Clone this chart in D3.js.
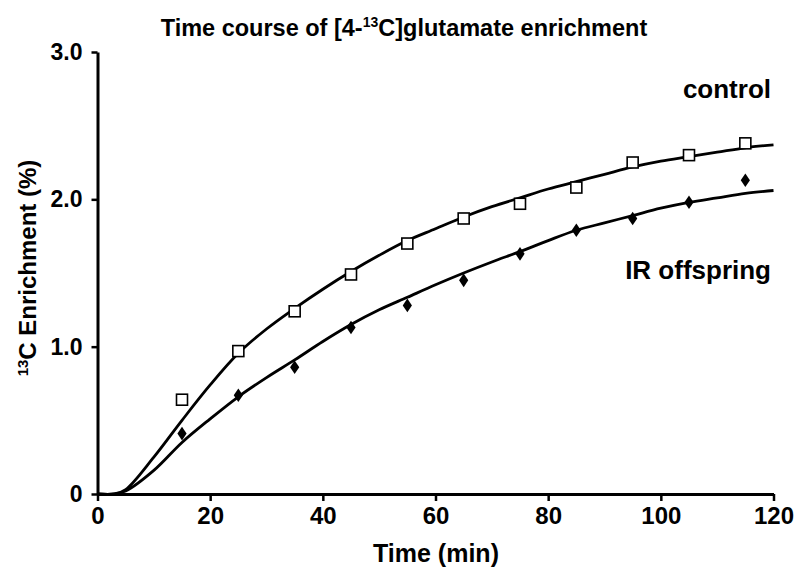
<!DOCTYPE html>
<html>
<head>
<meta charset="utf-8">
<script src="https://cdn.jsdelivr.net/npm/d3@7"></script>
<style>
  body { margin: 0; background: #fff; }
  text { font-family: "Liberation Sans", Arial, sans-serif; font-weight: bold; fill: #000; }
</style>
</head>
<body>
<div id="chart"></div>
<script>
var svgWidth = 800;
var svgHeight = 582;

// measured time points (min)
var times = [15, 25, 35, 45, 55, 65, 75, 85, 95, 105, 115];
var controlValues = [0.64, 0.97, 1.24, 1.49, 1.70, 1.87, 1.97, 2.08, 2.25, 2.30, 2.38];
var irValues = [0.41, 0.67, 0.86, 1.13, 1.28, 1.45, 1.63, 1.79, 1.87, 1.98, 2.13];

// fitted curves
var curveTimes = [0, 3, 5, 10, 15, 20, 25, 30, 35, 40, 45, 50, 55, 60, 65, 70, 75, 80, 85, 90, 95, 100, 105, 110, 115, 120];
var controlCurve = [0, 0, 0.03, 0.25, 0.50, 0.74, 0.955, 1.12, 1.26, 1.39, 1.51, 1.62, 1.72, 1.80, 1.88, 1.95, 2.01, 2.07, 2.12, 2.17, 2.22, 2.26, 2.29, 2.32, 2.35, 2.37];
var irCurve = [0, 0, 0.02, 0.16, 0.35, 0.51, 0.66, 0.79, 0.91, 1.035, 1.15, 1.25, 1.335, 1.42, 1.50, 1.575, 1.645, 1.72, 1.79, 1.84, 1.89, 1.94, 1.98, 2.01, 2.04, 2.06];

var xTicks = [0, 20, 40, 60, 80, 100, 120];
var yTicks = [0, 1, 2, 3];
var yTickLabels = ["0", "1.0", "2.0", "3.0"];

var svg = d3.select("#chart")
  .append("svg")
  .attr("width", svgWidth)
  .attr("height", svgHeight);

var x = d3.scaleLinear().domain([0, 120]).range([97.5, 773.5]);
var y = d3.scaleLinear().domain([0, 3]).range([494, 52]);

// axes
var xAxis = svg.append("g")
  .attr("transform", "translate(0,494)")
  .call(d3.axisBottom(x).tickValues(xTicks).tickSize(7).tickSizeOuter(0).tickPadding(4));
xAxis.select(".domain").attr("stroke-width", 3);
xAxis.selectAll(".tick line").attr("stroke-width", 2.5);
xAxis.selectAll(".tick text").attr("font-size", 24).attr("dy", "0.78em");

var yAxis = svg.append("g")
  .attr("transform", "translate(97.5,0)")
  .call(d3.axisLeft(y).tickValues(yTicks).tickFormat((d, i) => yTickLabels[i]).tickSize(6).tickSizeOuter(0).tickPadding(9));
yAxis.select(".domain").attr("stroke-width", 3);
yAxis.selectAll(".tick line").attr("stroke-width", 2.5);
yAxis.selectAll(".tick text").attr("font-size", 23);

// fitted lines
var line = d3.line()
  .x((d, i) => x(curveTimes[i]))
  .y(d => y(d))
  .curve(d3.curveCatmullRom.alpha(0.5));

svg.append("path")
  .datum(controlCurve)
  .attr("d", line)
  .attr("fill", "none")
  .attr("stroke", "#000")
  .attr("stroke-width", 2.8);

svg.append("path")
  .datum(irCurve)
  .attr("d", line)
  .attr("fill", "none")
  .attr("stroke", "#000")
  .attr("stroke-width", 2.8);

// control: open squares
svg.selectAll(".sq")
  .data(controlValues)
  .enter()
  .append("rect")
  .attr("class", "sq")
  .attr("x", (d, i) => x(times[i]) - 5.5)
  .attr("y", d => y(d) - 5.5)
  .attr("width", 11)
  .attr("height", 11)
  .attr("fill", "#fff")
  .attr("stroke", "#000")
  .attr("stroke-width", 1.6);

// IR offspring: filled diamonds
svg.selectAll(".dm")
  .data(irValues)
  .enter()
  .append("path")
  .attr("class", "dm")
  .attr("transform", (d, i) => `translate(${x(times[i])}, ${y(d)})`)
  .attr("d", "M0,-6.8L4.6,0L0,6.8L-4.6,0Z")
  .attr("fill", "#000");

// title
svg.append("text")
  .attr("x", 404)
  .attr("y", 36)
  .attr("text-anchor", "middle")
  .attr("font-size", 23.5)
  .html('Time course of [4-<tspan font-size="14" dy="-9">13</tspan><tspan dy="9">C]glutamate enrichment</tspan>');

// series labels
svg.append("text")
  .attr("x", 771)
  .attr("y", 98)
  .attr("text-anchor", "end")
  .attr("font-size", 26)
  .text("control");

svg.append("text")
  .attr("x", 771)
  .attr("y", 279)
  .attr("text-anchor", "end")
  .attr("font-size", 26)
  .text("IR offspring");

// axis labels
svg.append("text")
  .attr("x", 436)
  .attr("y", 562)
  .attr("text-anchor", "middle")
  .attr("font-size", 25)
  .text("Time (min)");

svg.append("text")
  .attr("transform", "translate(36, 268) rotate(-90)")
  .attr("text-anchor", "middle")
  .attr("font-size", 24)
  .html('<tspan font-size="15" dy="-8">13</tspan><tspan dy="8">C Enrichment (%)</tspan>');
</script>
</body>
</html>
